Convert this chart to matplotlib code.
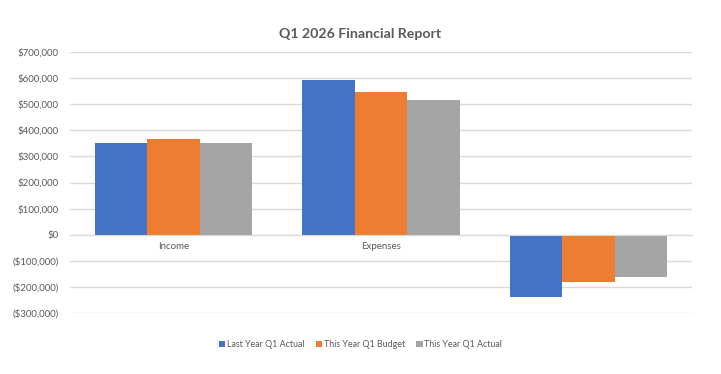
import numpy as np
import matplotlib.pyplot as plt
from matplotlib.ticker import FuncFormatter

# data
categories = ["Income", "Expenses", "Net"]
series_names = ["Last Year Q1 Actual", "This Year Q1 Budget", "This Year Q1 Actual"]
last_year_actual = [353000, 593000, -240000]
this_year_budget = [365000, 547000, -181000]
this_year_actual = [351000, 516000, -162000]
colors = ["#4472C4", "#ED7D31", "#A5A5A5"]

plt.rcParams['font.family'] = ['Lato', 'DejaVu Sans']

fig = plt.figure(figsize=(7.21, 3.74), dpi=100)
ax = fig.add_axes([0.097, 0.163, 0.863, 0.698])

x = np.arange(len(categories))
w = 0.253
for i, vals in enumerate([last_year_actual, this_year_budget, this_year_actual]):
    ax.bar(x + (i - 1) * w, vals, w, color=colors[i], label=series_names[i], zorder=2)

ax.set_xlim(-0.5, 2.5)
ax.set_ylim(-300000, 700000)
ax.set_yticks(np.arange(-300000, 700001, 100000))

def money(v, pos):
    if v < 0:
        return "(${:,.0f})".format(-v)
    return "${:,.0f}".format(v)

ax.yaxis.set_major_formatter(FuncFormatter(money))
ax.grid(axis='y', color='#d9d9d9', linewidth=1)
ax.set_axisbelow(True)

for s in ['top', 'right', 'left']:
    ax.spines[s].set_visible(False)
ax.spines['bottom'].set_position(('data', 0))
ax.spines['bottom'].set_color('#d9d9d9')
ax.set_xticks(x)
ax.set_xticklabels(categories)
ax.tick_params(axis='both', length=0, labelsize=7, labelcolor='#595959')
ax.tick_params(axis='x', pad=5)
ax.tick_params(axis='y', pad=8)
for lab in ax.get_yticklabels():
    lab.set_horizontalalignment('right')

fig.text(0.5, 0.909, "Q1 2026 Financial Report", ha='center', va='center',
         fontsize=10.2, fontweight='bold', color='#595959')

leg = fig.legend(loc='center', bbox_to_anchor=(0.5, 0.078), ncol=3, frameon=False,
                 fontsize=6.4, handlelength=0.7, handleheight=0.7, handletextpad=0.2,
                 columnspacing=1.3, labelcolor='#595959')

fig.savefig("out.png", dpi=100)
